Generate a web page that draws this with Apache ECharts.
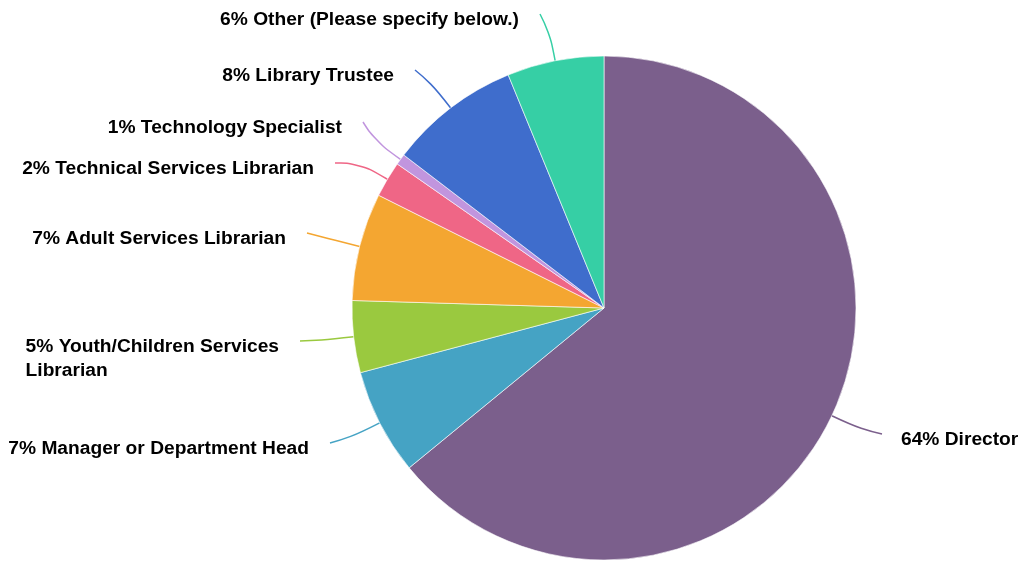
<!DOCTYPE html>
<html>
<head>
<meta charset="utf-8">
<script src="https://cdn.jsdelivr.net/npm/echarts@6/dist/echarts.min.js"></script>
<style>
html,body{margin:0;padding:0;background:#fff;}
#chart{width:1023px;height:562px;}
</style>
</head>
<body>
<div id="chart"></div>
<script>
// ---- data ----
const categories = [
  'Director',
  'Manager or Department Head',
  'Youth/Children Services Librarian',
  'Adult Services Librarian',
  'Technical Services Librarian',
  'Technology Specialist',
  'Library Trustee',
  'Other (Please specify below.)'
];
const shares = [64.0, 6.8, 4.6, 6.9, 2.3, 0.7, 8.4, 6.2];

// ---- style ----
const colors = ['#7b5f8c', '#45a3c4', '#9ac93f', '#f4a631', '#ef6686', '#c195de', '#3f6dcc', '#36cfa5'];
// where each label's leader line ends (label placed next to it)
const lineEnds = [[882, 434], [330, 443], [300, 341], [307, 233], [335, 163], [363, 122], [415, 70], [540, 14]];
// number of words kept on the first label line (label wraps after them)
const wrapAfterWords = { 2: 3 };

const chart = echarts.init(document.getElementById('chart'));

const data = categories.map((name, i) => ({ name: name, value: shares[i], itemStyle: { color: colors[i] } }));

chart.setOption({
  animation: false,
  series: [{
    type: 'pie',
    center: [604, 308],
    radius: 252,
    startAngle: 90,
    clockwise: true,
    avoidLabelOverlap: false,
    data: data,
    itemStyle: { borderColor: '#ffffff', borderWidth: 0.6 },
    label: {
      show: true,
      position: 'outside',
      formatter: p => {
        const text = Math.round(p.value) + '% ' + p.name;
        const n = wrapAfterWords[p.dataIndex];
        if (!n) return text;
        const words = text.split(' ');
        return words.slice(0, n).join(' ') + '\n' + words.slice(n).join(' ');
      },
      fontFamily: 'Liberation Sans, Arial, sans-serif',
      fontWeight: 'bold',
      fontSize: 19.2,
      lineHeight: 24,
      align: 'left',
      color: '#000'
    },
    labelLine: {
      show: true,
      smooth: 0.5,
      length: 15,
      length2: 10,
      lineStyle: { width: 1.5 }
    },
    labelLayout: function (params) {
      const i = params.dataIndex;
      const e = lineEnds[i];
      const pts = params.labelLinePoints;
      const p0 = pts[0];
      let dx = pts[1][0] - p0[0], dy = pts[1][1] - p0[1];
      const dl = Math.sqrt(dx * dx + dy * dy) || 1;
      dx /= dl; dy /= dl;
      const dist = Math.sqrt((e[0] - p0[0]) ** 2 + (e[1] - p0[1]) ** 2);
      const k = dist * 0.6;
      const p1 = [p0[0] + dx * k, p0[1] + dy * k];
      const isRight = e[0] > 604;
      const w = params.labelRect.width;
      return {
        x: isRight ? e[0] + 19 : e[0] - 21 - w,
        y: e[1] + 6 - 12,
        align: 'left',
        verticalAlign: 'top',
        labelLinePoints: [p0, p1, [e[0], e[1]]]
      };
    }
  }]
});
</script>
</body>
</html>
